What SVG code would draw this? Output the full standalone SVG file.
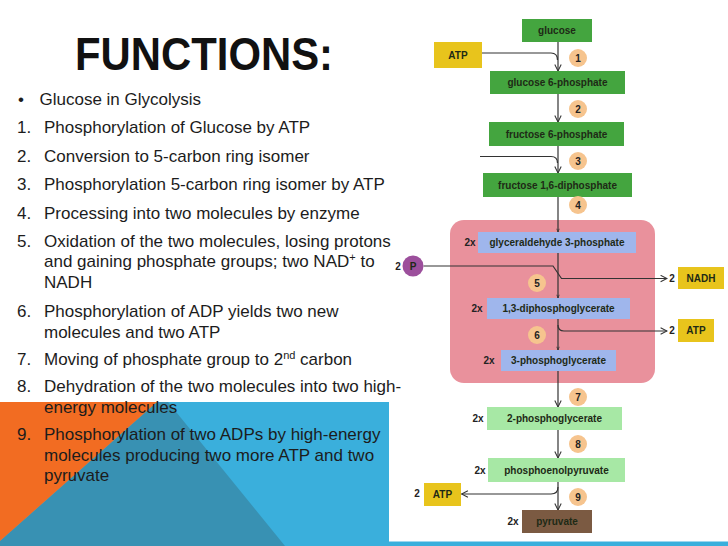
<svg xmlns="http://www.w3.org/2000/svg" width="728" height="546" viewBox="0 0 728 546">
<style>
.list{font-family:"Liberation Sans",Arial,sans-serif;font-size:17px;fill:#1c1c1c}
.t{font-family:"Liberation Sans",Arial,sans-serif;font-size:10px;font-weight:bold;fill:#1e2a16;text-anchor:middle;dominant-baseline:central}
.lbl{font-family:"Liberation Sans",Arial,sans-serif;font-size:10px;font-weight:bold;fill:#222;text-anchor:middle;dominant-baseline:central}
.dg{fill:#44a53f}
.lb{fill:#9fb6ec}
.lg{fill:#a7e8a5}
.yl{fill:#e8c41c}
.num{fill:#f6c48e}
.conn path,.conn line{fill:none;stroke:#333;stroke-width:1.2}
</style>
<defs>
<marker id="arr" viewBox="0 0 10 10" refX="9" refY="5" markerWidth="8" markerHeight="8" markerUnits="userSpaceOnUse" orient="auto">
<path d="M1,1 L9,5 L1,9" fill="none" stroke="#333" stroke-width="1.3"/>
</marker>
<marker id="tick" viewBox="0 0 10 10" refX="9" refY="5" markerWidth="4" markerHeight="4" markerUnits="userSpaceOnUse" orient="auto">
<path d="M1,2 L9,5 L1,8" fill="none" stroke="#333" stroke-width="2"/>
</marker>
</defs>
<g id="background">
<rect x="0" y="0" width="728" height="546" fill="#ffffff"/>
<rect x="0" y="402" width="728" height="144" fill="#3aafdc"/>
<polygon points="157,402 168,402 285,546 0,546 0,541" fill="#3891b3"/>
<polygon points="0,402 157,402 0,541" fill="#f26c22"/>
<rect x="389" y="0" width="339" height="541.5" fill="#ffffff"/>
</g>
<g id="title">
<text x="75" y="70" font-family="Liberation Sans, Arial, sans-serif" font-size="46" font-weight="bold" fill="#111" textLength="258" lengthAdjust="spacingAndGlyphs">FUNCTIONS:</text>
</g>
<g id="list" class="list">
<text x="18" y="104.5">•</text><text x="39.5" y="104.5">Glucose in Glycolysis</text>
<text x="17" y="133">1.</text><text x="44" y="133">Phosphorylation of Glucose by ATP</text>
<text x="17" y="161.5">2.</text><text x="44" y="161.5">Conversion to 5-carbon ring isomer</text>
<text x="17" y="190">3.</text><text x="44" y="190">Phosphorylation 5-carbon ring isomer by ATP</text>
<text x="17" y="218.5">4.</text><text x="44" y="218.5">Processing into two molecules by enzyme</text>
<text x="17" y="246.5">5.</text><text x="44" y="246.5">Oxidation of the two molecules, losing protons</text>
<text x="44" y="267">and gaining phosphate groups; two NAD<tspan font-size="11" dy="-6">+</tspan><tspan dy="6"> to</tspan></text>
<text x="44" y="288">NADH</text>
<text x="17" y="317">6.</text><text x="44" y="317">Phosphorylation of ADP yields two new</text>
<text x="44" y="337.5">molecules and two ATP</text>
<text x="17" y="364.5">7.</text><text x="44" y="364.5">Moving of phosphate group to 2<tspan font-size="11" dy="-6">nd</tspan><tspan dy="6"> carbon</tspan></text>
<text x="17" y="392">8.</text><text x="44" y="392">Dehydration of the two molecules into two high-</text>
<text x="44" y="412.5">energy molecules</text>
<text x="17" y="440">9.</text><text x="44" y="440">Phosphorylation of two ADPs by high-energy</text>
<text x="44" y="460.5">molecules producing two more ATP and two</text>
<text x="44" y="481">pyruvate</text>
</g>
<g id="phase2">
<rect x="450" y="220" width="205" height="163" rx="14" fill="#e9919c"/>
</g>
<g class="conn" id="connectors">
<line x1="558" y1="42" x2="558" y2="71" marker-end="url(#arr)"/>
<path d="M482,53 H551 Q557.5,53 557.5,60"/>
<line x1="558" y1="94" x2="558" y2="122" marker-end="url(#arr)"/>
<line x1="558" y1="146" x2="558" y2="173" marker-end="url(#arr)"/>
<path d="M480,156.5 H551 Q557.5,156.5 557.5,163"/>
<line x1="558" y1="197" x2="558" y2="232" marker-end="url(#tick)"/>
<line x1="558" y1="253" x2="558" y2="298" marker-end="url(#tick)"/>
<path d="M423.5,266 H553 L561.5,278.5 H667" marker-end="url(#arr)"/>
<line x1="558" y1="319" x2="558" y2="350" marker-end="url(#tick)"/>
<path d="M558,325 Q558,331 564,331 H667" marker-end="url(#arr)"/>
<line x1="558" y1="371" x2="558" y2="407" marker-end="url(#arr)"/>
<line x1="558" y1="430" x2="558" y2="458" marker-end="url(#arr)"/>
<line x1="558" y1="482" x2="558" y2="510" marker-end="url(#arr)"/>
<path d="M558,487 Q558,494 551,494 H461.5" marker-end="url(#arr)"/>
</g>
<g id="glucose"><rect class="dg" x="522" y="19" width="70" height="23"/><text class="t" x="557" y="30.5">glucose</text></g>
<g id="atp1"><rect class="yl" x="434" y="42" width="48" height="26"/><text class="t" x="458" y="55">ATP</text></g>
<g id="g6p"><rect class="dg" x="490" y="71" width="135" height="23"/><text class="t" x="557.5" y="82.5">glucose 6-phosphate</text></g>
<g id="f6p"><rect class="dg" x="489" y="122" width="135" height="24"/><text class="t" x="556.5" y="134">fructose 6-phosphate</text></g>
<g id="f16dp"><rect class="dg" x="483" y="173" width="149" height="24"/><text class="t" x="557.5" y="185">fructose 1,6-diphosphate</text></g>
<g id="g3p"><text class="lbl" x="470" y="242.5">2x</text><rect class="lb" x="478" y="232" width="158" height="21"/><text class="t" x="557" y="242.5">glyceraldehyde 3-phosphate</text></g>
<g id="pi"><text class="lbl" x="398" y="266">2</text><circle cx="413" cy="266" r="10.5" fill="#9c4f9c"/><text class="t" x="413" y="266">P</text></g>
<g id="nadh"><text class="lbl" x="672" y="278.5">2</text><rect class="yl" x="678" y="267" width="46" height="22"/><text class="t" x="701" y="278">NADH</text></g>
<g id="dpg"><text class="lbl" x="477" y="308">2x</text><rect class="lb" x="487" y="298" width="143" height="21"/><text class="t" x="558.5" y="308.5">1,3-diphosphoglycerate</text></g>
<g id="atp2"><text class="lbl" x="672" y="330.5">2</text><rect class="yl" x="678" y="319" width="36" height="23"/><text class="t" x="696" y="330.5">ATP</text></g>
<g id="pg3"><text class="lbl" x="489" y="360">2x</text><rect class="lb" x="501" y="350" width="115" height="21"/><text class="t" x="558.5" y="360.5">3-phosphoglycerate</text></g>
<g id="pg2"><text class="lbl" x="478" y="418.5">2x</text><rect class="lg" x="487" y="407" width="135" height="23"/><text class="t" x="554.5" y="418.5">2-phosphoglycerate</text></g>
<g id="pep"><text class="lbl" x="480" y="470">2x</text><rect class="lg" x="488" y="458" width="137" height="24"/><text class="t" x="556.5" y="470">phosphoenolpyruvate</text></g>
<g id="atp3"><text class="lbl" x="417" y="493">2</text><rect class="yl" x="424" y="483" width="37" height="23"/><text class="t" x="442.5" y="494.5">ATP</text></g>
<g id="pyruvate"><text class="lbl" x="513" y="521.5">2x</text><rect x="522" y="510" width="70" height="23" fill="#7b5a42"/><text class="t" x="557" y="521.5">pyruvate</text></g>
<g id="steps">
<circle class="num" cx="578" cy="58" r="9"/><text class="lbl" x="578" y="58">1</text>
<circle class="num" cx="578" cy="109" r="9"/><text class="lbl" x="578" y="109">2</text>
<circle class="num" cx="578" cy="161" r="9"/><text class="lbl" x="578" y="161">3</text>
<circle class="num" cx="578" cy="205" r="9"/><text class="lbl" x="578" y="205">4</text>
<circle class="num" cx="537" cy="283" r="9"/><text class="lbl" x="537" y="283">5</text>
<circle class="num" cx="537" cy="335" r="9"/><text class="lbl" x="537" y="335">6</text>
<circle class="num" cx="578" cy="397" r="9"/><text class="lbl" x="578" y="397">7</text>
<circle class="num" cx="578" cy="444" r="9"/><text class="lbl" x="578" y="444">8</text>
<circle class="num" cx="578" cy="497" r="9"/><text class="lbl" x="578" y="497">9</text>
</g>
</svg>
